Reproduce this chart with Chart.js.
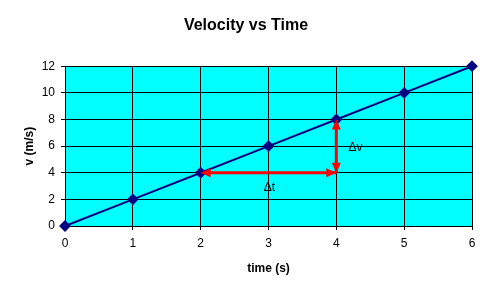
<!DOCTYPE html>
<html>
<head>
<meta charset="utf-8">
<script src="https://cdn.jsdelivr.net/npm/chart.js@4"></script>
<style>
  html, body { margin: 0; padding: 0; background: #fff; }
  #velocity-graph { display: block; }
</style>
</head>
<body>
<canvas id="velocity-graph" width="492" height="296"></canvas>
<script>
let timeValues = [0, 1, 2, 3, 4, 5, 6];
let velocityValues = [0, 2, 4, 6, 8, 10, 12];

// the two red arrows (start, end) in data units
let dtArrowX = [2, 4];
let dtArrowY = [4, 4];
let dvArrowX = [4, 4];
let dvArrowY = [4, 8];

let deltaLabels = ['\u0394t', '\u0394v'];
let deltaLabelX = [2.93, 4.18];
let deltaLabelY = [2.9, 5.9];

let fontFamily = "Arial, 'Liberation Sans', sans-serif";

function toPoints(xs, ys) {
    let pts = [];
    xs.forEach(function (v, i) { pts.push({x: v, y: ys[i]}); });
    return pts;
}

let plotBackground = {
    id: 'plotBackground',
    beforeDraw: function (chart) {
        let a = chart.chartArea;
        let ctx = chart.ctx;
        ctx.save();
        ctx.fillStyle = '#00ffff';
        ctx.fillRect(a.left, a.top, a.right - a.left, a.bottom - a.top);
        ctx.restore();
    }
};

function drawHead(ctx, tip, from) {
    let ang = Math.atan2(tip.y - from.y, tip.x - from.x);
    let len = 10, half = 4.5;
    ctx.save();
    ctx.translate(tip.x, tip.y);
    ctx.rotate(ang);
    ctx.beginPath();
    ctx.moveTo(0, 0);
    ctx.lineTo(-len, -half);
    ctx.lineTo(-len, half);
    ctx.closePath();
    ctx.fill();
    ctx.restore();
}

let arrowHeads = {
    id: 'arrowHeads',
    afterDatasetsDraw: function (chart) {
        let ctx = chart.ctx;
        ctx.fillStyle = '#ff0000';
        [1, 2].forEach(function (idx) {
            let pts = chart.getDatasetMeta(idx).data;
            let p0 = pts[0], p1 = pts[1];
            drawHead(ctx, p0, p1);
            drawHead(ctx, p1, p0);
        });
        let xs = chart.scales.x, ys = chart.scales.y;
        ctx.save();
        ctx.fillStyle = '#000';
        ctx.font = '12px ' + fontFamily;
        ctx.textBaseline = 'middle';
        ctx.textAlign = 'left';
        deltaLabels.forEach(function (t, i) {
            ctx.fillText(t, xs.getPixelForValue(deltaLabelX[i]), ys.getPixelForValue(deltaLabelY[i]));
        });
        ctx.restore();
    }
};

new Chart(document.getElementById('velocity-graph').getContext('2d'), {
    type: 'line',
    data: {
        datasets: [
            {
                label: 'Velocity',
                data: toPoints(timeValues, velocityValues),
                borderColor: '#000080',
                backgroundColor: '#000080',
                borderWidth: 2,
                pointStyle: 'rectRot',
                pointRadius: 4.5,
                tension: 0,
                clip: false
            },
            {
                label: 'dt',
                data: toPoints(dtArrowX, dtArrowY),
                borderColor: '#ff0000',
                borderWidth: 3,
                pointRadius: 0
            },
            {
                label: 'dv',
                data: toPoints(dvArrowX, dvArrowY),
                borderColor: '#ff0000',
                borderWidth: 3,
                pointRadius: 0
            }
        ]
    },
    options: {
        responsive: false,
        animation: false,
        maintainAspectRatio: false,
        layout: { padding: 0 },
        scales: {
            x: {
                type: 'linear',
                min: 0,
                max: 6,
                afterFit: function (s) { s.height = 70; },
                ticks: {
                    stepSize: 1,
                    padding: 6,
                    color: '#000',
                    font: { family: fontFamily, size: 12 }
                },
                grid: { color: '#000', lineWidth: 1, tickLength: 4 },
                border: { color: '#000', width: 1 },
                title: {
                    display: true,
                    text: 'time (s)',
                    color: '#000',
                    font: { family: fontFamily, size: 12, weight: 'bold' },
                    padding: { top: 0, bottom: 20 }
                }
            },
            y: {
                min: 0,
                max: 12,
                afterFit: function (s) { s.width = 65; },
                ticks: {
                    stepSize: 2,
                    padding: 6,
                    color: '#000',
                    font: { family: fontFamily, size: 12 }
                },
                grid: { color: '#000', lineWidth: 1, tickLength: 4 },
                border: { color: '#000', width: 1 },
                title: {
                    display: true,
                    text: 'v (m/s)',
                    color: '#000',
                    font: { family: fontFamily, size: 12, weight: 'bold' },
                    padding: { top: 22, bottom: 0 }
                }
            },
            // empty strip on the right so the title stays centred on the page
            yRight: {
                type: 'linear',
                position: 'right',
                afterFit: function (s) { s.width = 20; },
                ticks: { display: false },
                grid: { display: false },
                border: { display: false }
            }
        },
        plugins: {
            legend: { display: false },
            tooltip: { enabled: false },
            title: {
                display: true,
                text: 'Velocity vs Time',
                color: '#000',
                font: { family: fontFamily, size: 16, weight: 'bold' },
                padding: { top: 16, bottom: 31 }
            }
        }
    },
    plugins: [plotBackground, arrowHeads]
});
</script>
</body>
</html>
